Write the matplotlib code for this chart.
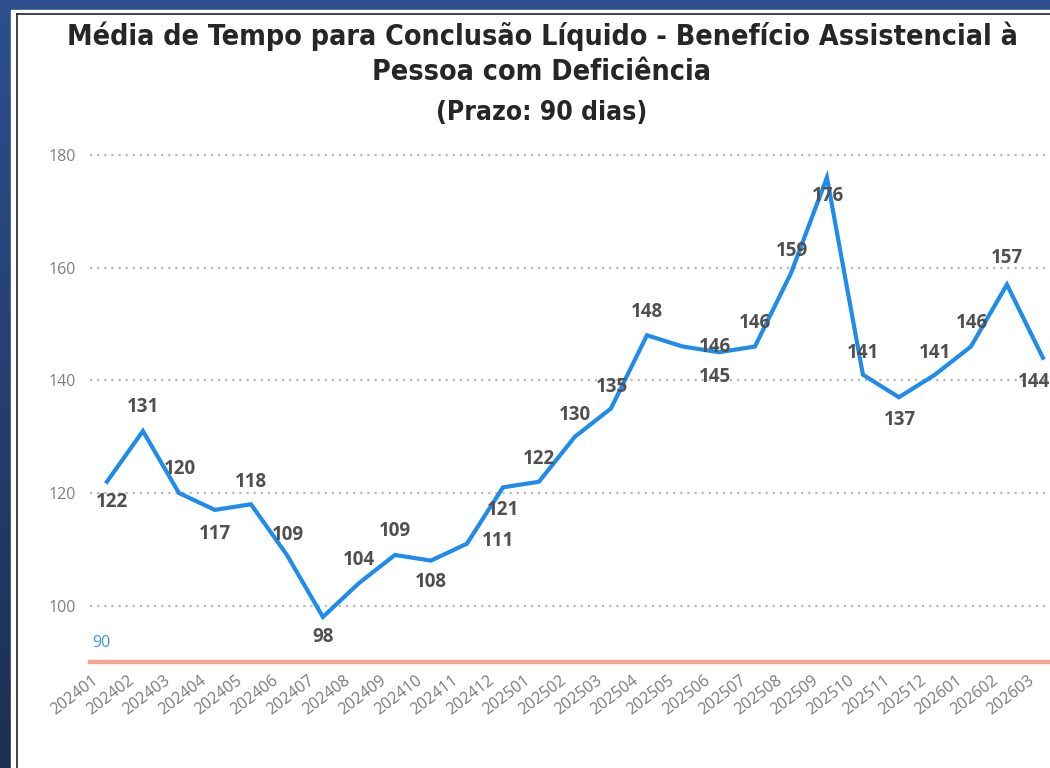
import matplotlib
matplotlib.use("Agg")
import matplotlib.pyplot as plt
import numpy as np
from matplotlib.colors import LinearSegmentedColormap
from matplotlib.transforms import ScaledTranslation
from matplotlib.lines import Line2D

# ---------------- data ----------------
months = ["202401", "202402", "202403", "202404", "202405", "202406",
          "202407", "202408", "202409", "202410", "202411", "202412",
          "202501", "202502", "202503", "202504", "202505", "202506",
          "202507", "202508", "202509", "202510", "202511", "202512",
          "202601", "202602", "202603"]
values = [122, 131, 120, 117, 118, 109, 98, 104, 109, 108, 111, 121,
          122, 130, 135, 148, 146, 145, 146, 159, 176, 141, 137, 141,
          146, 157, 144]
prazo = 90
yticks = [100, 120, 140, 160, 180]

# label offsets in pixels (style only): (dx, dy downward)
label_off = [(5, 20), (0, -24), (1, -24), (0, 24), (0, -22), (1, -20),
             (0, 20), (0, -23), (0, -24), (0, 21), (31, -3), (0, 23),
             (0, -23), (0, -22), (1, -22), (0, -23), (32, 0), (-4, 25),
             (0, -24), (1, -22), (1, 18), (0, -22), (1, 23), (0, -22),
             (1, -24), (0, -27), (-9, 24)]

W, H = 1050, 768
fig = plt.figure(figsize=(W / 100, H / 100), dpi=100)

# background gradient
bg = fig.add_axes([0, 0, 1, 1])
bg.axis("off")
grad = np.linspace(0, 1, 256).reshape(-1, 1)
cmap = LinearSegmentedColormap.from_list("bg", ["#2d4f8f", "#1c2f52"])
bg.imshow(grad, aspect="auto", cmap=cmap, extent=[0, 1, 0, 1])
bg.set_xlim(0, 1)
bg.set_ylim(0, 1)
# white panel
bg.add_patch(plt.Rectangle((11 / W, 0), 1, 1 - 10 / H, color="white", zorder=2))
bg.add_line(Line2D([17 / W, 17 / W], [0, 1 - 13.5 / H], color="#222222", lw=1.2, zorder=3))
bg.add_line(Line2D([17 / W, 1], [1 - 13.5 / H, 1 - 13.5 / H], color="#222222", lw=1.2, zorder=3))

# title
title_kw = dict(ha="center", va="center", fontweight="bold", color="#262626",
                family="DejaVu Sans", fontstretch="condensed")
fig.text(542 / W, 1 - 36 / H,
         "Média de Tempo para Conclusão Líquido - Benefício Assistencial à",
         fontsize=20.5, **title_kw)
fig.text(542 / W, 1 - 72 / H, "Pessoa com Deficiência", fontsize=20.5, **title_kw)
fig.text(542 / W, 1 - 113 / H, "(Prazo: 90 dias)", fontsize=19, **title_kw)

# main axes
ax_left, ax_right = 90, 1050
ax_top, ax_bot = 149.4, 662
ax = fig.add_axes([ax_left / W, 1 - ax_bot / H, (ax_right - ax_left) / W, (ax_bot - ax_top) / H])
ax.set_facecolor("none")
x = np.arange(len(months))
ax.set_xlim(-0.47, -0.47 + (ax_right - ax_left) / 36.0)
ax.set_ylim(90, 181)

for s in ax.spines.values():
    s.set_visible(False)

ax.set_yticks(yticks)
ax.grid(axis="y", color="#b8b8b8", linestyle=(0, (1, 2.2)), linewidth=1.6)
ax.grid(axis="x", visible=False)
ax.tick_params(axis="y", length=0, pad=10, labelsize=11.5, labelcolor="#7f7f7f")
ax.tick_params(axis="x", length=0, pad=2, labelsize=11.5, labelcolor="#7a7a7a")
for t in ax.get_yticklabels():
    t.set_family("Open Sans")

ax.set_xticks(x)
ax.set_xticklabels(months, rotation=37, ha="right", va="top", rotation_mode="anchor",
                   family="Open Sans")
for t in ax.get_xticklabels():
    t.set_transform(t.get_transform() + ScaledTranslation(-15 / 100, -8 / 100, fig.dpi_scale_trans))

# reference line
ax.axhline(prazo, color="#f2a48c", lw=3.2, clip_on=False, zorder=2)
ax.annotate(str(prazo), xy=(0, prazo), xycoords=("axes fraction", "data"),
            xytext=(2, 19), textcoords="offset pixels", ha="left", va="center",
            color="#3f95dd", fontsize=11.5, family="Open Sans")

# line
ax.plot(x, values, color="#1f8ceb", lw=3, solid_joinstyle="miter", zorder=3, clip_on=False)

for i, v in enumerate(values):
    dx, dy = label_off[i]
    ax.annotate(str(v), xy=(i, v), xytext=(dx, -dy), textcoords="offset pixels",
                ha="center", va="center", fontsize=13.5, fontweight="bold",
                color="#505050", family="Open Sans", zorder=4, annotation_clip=False)

fig.savefig("out.png", dpi=100)
